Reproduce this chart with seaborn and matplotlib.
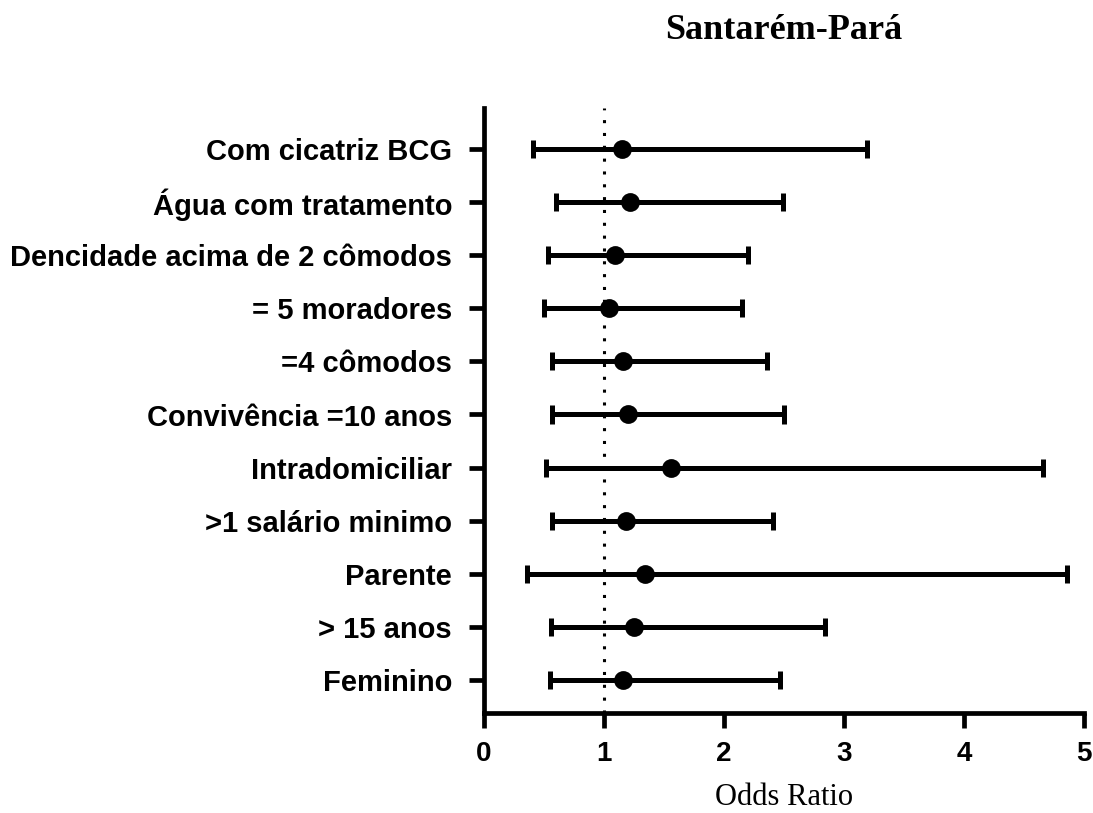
import numpy as np
import pandas as pd
import matplotlib
matplotlib.use("Agg")
import matplotlib.pyplot as plt
import seaborn as sns

categories = ["Com cicatriz BCG", "Água com tratamento", "Dencidade acima de 2 cômodos",
              "= 5 moradores", "=4 cômodos", "Convivência =10 anos", "Intradomiciliar",
              ">1 salário minimo", "Parente", "> 15 anos", "Feminino"]
odds_ratio = [1.15, 1.22, 1.09, 1.04, 1.16, 1.20, 1.56, 1.18, 1.34, 1.25, 1.16]
ci_lower = [0.41, 0.60, 0.53, 0.50, 0.57, 0.57, 0.52, 0.57, 0.36, 0.56, 0.55]
ci_upper = [3.19, 2.49, 2.20, 2.15, 2.36, 2.50, 4.66, 2.41, 4.86, 2.84, 2.47]
x_ticks = [0, 1, 2, 3, 4, 5]

sns.set_style("ticks")
plt.rcParams["font.family"] = ["Liberation Sans", "DejaVu Sans"]
plt.rcParams["text.color"] = "black"
plt.rcParams["axes.labelcolor"] = "black"

rows = []
for c, lo, o, hi in zip(categories, ci_lower, odds_ratio, ci_upper):
    for v in (lo, o, hi):
        rows.append({"cat": c, "val": v})
df = pd.DataFrame(rows)

fig = plt.figure(figsize=(10.93, 8.13), dpi=100)
ax = fig.add_axes([484 / 1093, 1 - 713 / 813, 600 / 1093, 605 / 813])

ax.axvline(1, color="black", linewidth=2.2, linestyle=(0, (1, 3.2)),
           dash_capstyle="butt", zorder=1)

sns.pointplot(data=df, x="val", y="cat", order=categories, estimator=np.median,
              errorbar=("pi", 100), capsize=0.34, color="black", markers="o",
              linestyles="none", markersize=11.5,
              err_kws={"linewidth": 3.6, "solid_capstyle": "butt"}, ax=ax, zorder=3)

ax.set_xlim(0, 5)
ax.set_ylim(10 + 33 / 53.1, -41 / 53.1)
ax.set_xticks(x_ticks)
ax.set_xticklabels([str(t) for t in x_ticks])

for side in ("top", "right"):
    ax.spines[side].set_visible(False)
for side in ("left", "bottom"):
    ax.spines[side].set_linewidth(3.4)
    ax.spines[side].set_color("black")

ax.tick_params(axis="both", which="major", direction="out", length=11, width=3.4,
               color="black", labelcolor="black")
ax.tick_params(axis="y", pad=12, labelsize=21)
ax.tick_params(axis="x", pad=9, labelsize=20)
for lab in ax.get_yticklabels() + ax.get_xticklabels():
    lab.set_fontweight("bold")

ax.set_ylabel("")
ax.set_xlabel("Odds Ratio", fontfamily="Liberation Serif", fontsize=22, labelpad=12,
              color="black")

fig.text(784 / 1093, 1 - 39 / 813, "Santarém-Pará", ha="center", va="baseline",
         fontfamily="Liberation Serif", fontweight="bold", fontsize=26, color="black")

fig.savefig("out.png", dpi=100)
